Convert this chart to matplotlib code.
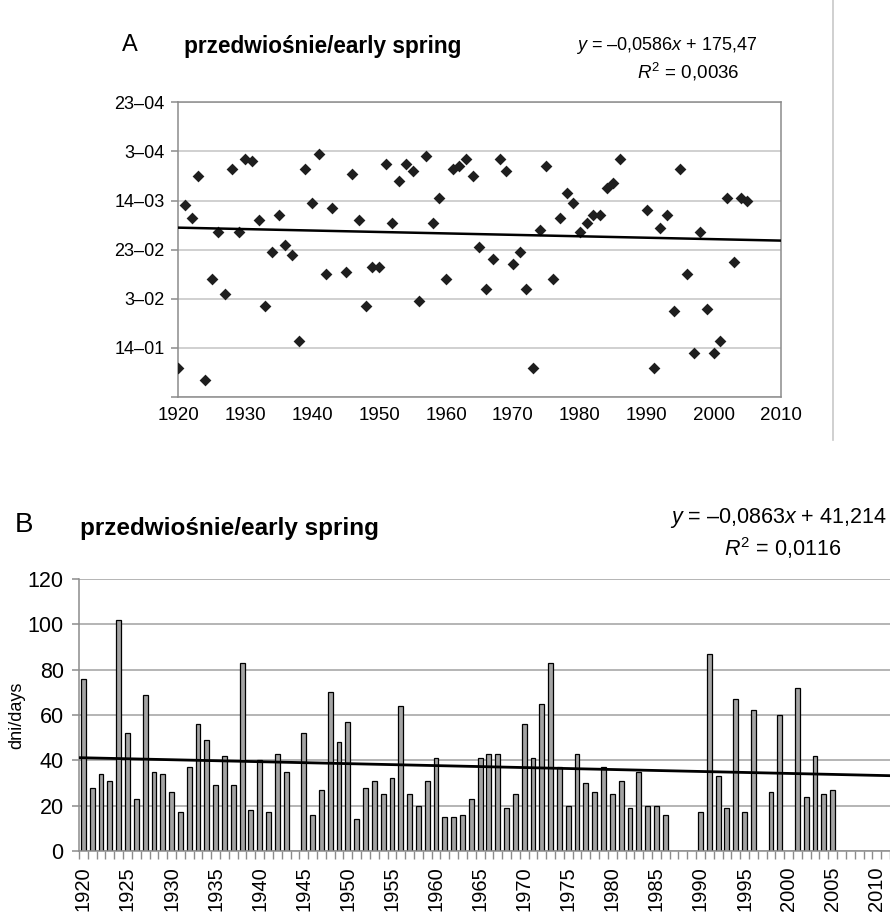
import matplotlib
matplotlib.use("Agg")
import matplotlib.pyplot as plt
from matplotlib import font_manager
from matplotlib.lines import Line2D
import numpy as np

plt.rcParams['font.family'] = ['Liberation Sans', 'DejaVu Sans']
plt.rcParams['mathtext.fontset'] = 'custom'
plt.rcParams['mathtext.rm'] = 'Liberation Sans'
plt.rcParams['mathtext.it'] = 'Liberation Sans:italic'

names = {f.name for f in font_manager.fontManager.ttflist}
has_narrow = 'Liberation Sans Narrow' in names
narrow = 'Liberation Sans Narrow' if has_narrow else 'Liberation Sans'

# ---- panel A : date of start of early spring (day number, 14 = 14 Jan)
years_a = [1920, 1921, 1922, 1923, 1924, 1925, 1926, 1927, 1928, 1929,
           1930, 1931, 1932, 1933, 1934, 1935, 1936, 1937, 1938, 1939,
           1940, 1941, 1942, 1943, 1945, 1946, 1947, 1948, 1949,
           1950, 1951, 1952, 1953, 1954, 1955, 1956, 1957, 1958, 1959,
           1960, 1961, 1962, 1963, 1964, 1965, 1966, 1967, 1968, 1969,
           1970, 1971, 1972, 1973, 1974, 1975, 1976, 1977, 1978, 1979,
           1980, 1981, 1982, 1983, 1984, 1985, 1986,
           1990, 1991, 1992, 1993, 1994, 1995, 1996, 1997, 1998, 1999,
           2000, 2001, 2002, 2003, 2004, 2005]
days_a = [6, 72, 67, 84, 1, 42, 61, 36, 87, 61,
          91, 90, 66, 31, 53, 68, 56, 52, 17, 87,
          73, 93, 44, 71, 45, 85, 66, 31, 47,
          47, 89, 65, 82, 89, 86, 33, 92, 65, 75,
          42, 87, 88, 91, 84, 55, 38, 50, 91, 86,
          48, 53, 38, 6, 62, 88, 42, 67, 77, 73,
          61, 65, 68, 68, 79, 81, 91,
          70, 6, 63, 68, 29, 87, 44, 12, 61, 30,
          12, 17, 75, 49, 75, 74]
ytick_days = [-6, 14, 34, 54, 74, 94, 114]
ytick_labels = ['', '14–01', '3–02', '23–02', '14–03', '3–04', '23–04']
slope_a, icpt_a = -0.0586, 175.47

# ---- panel B : duration of early spring (days)
years_b = [1920, 1921, 1922, 1923, 1924, 1925, 1926, 1927, 1928, 1929,
           1930, 1931, 1932, 1933, 1934, 1935, 1936, 1937, 1938, 1939,
           1940, 1941, 1942, 1943, 1945, 1946, 1947, 1948, 1949,
           1950, 1951, 1952, 1953, 1954, 1955, 1956, 1957, 1958, 1959,
           1960, 1961, 1962, 1963, 1964, 1965, 1966, 1967, 1968, 1969,
           1970, 1971, 1972, 1973, 1974, 1975, 1976, 1977, 1978, 1979,
           1980, 1981, 1982, 1983, 1984, 1985, 1986,
           1990, 1991, 1992, 1993, 1994, 1995, 1996, 1998, 1999,
           2001, 2002, 2003, 2004, 2005]
len_b = [76, 28, 34, 31, 102, 52, 23, 69, 35, 34,
         26, 17, 37, 56, 49, 29, 42, 29, 83, 18,
         40, 17, 43, 35, 52, 16, 27, 70, 48,
         57, 14, 28, 31, 25, 32, 64, 25, 20, 31,
         41, 15, 15, 16, 23, 41, 43, 43, 19, 25,
         56, 41, 65, 83, 37, 20, 43, 30, 26, 37,
         25, 31, 19, 35, 20, 20, 16,
         17, 87, 33, 19, 67, 17, 62, 26, 60,
         72, 24, 42, 25, 27]
first_cat, last_cat = 1920, 2011
slope_b, icpt_b = -0.0863, 41.214

W, H = 890, 916
fig = plt.figure(figsize=(W / 100, H / 100), dpi=100)


def box(l, t, r, b):
    return [l / W, 1 - b / H, (r - l) / W, (b - t) / H]


# ---------------- A
axA = fig.add_axes(box(178.3, 102.3, 780.7, 397))
axA.set_xlim(1920, 2010)
axA.set_ylim(-6, 114)
axA.set_yticks(ytick_days)
axA.set_yticklabels(ytick_labels)
axA.set_xticks(range(1920, 2011, 10))
axA.grid(axis='y', color='#c4c4c4', lw=1.1)
axA.set_axisbelow(True)
axA.scatter(years_a, days_a, marker='D', s=36, color='#1e1e1e', lw=0, zorder=3)
xx = np.array([1920, 2010])
axA.plot(xx, slope_a * xx + icpt_a, color='black', lw=1.8, zorder=4)
for sp in axA.spines.values():
    sp.set_color('#8c8c8c')
    sp.set_linewidth(1.1)
axA.tick_params(axis='x', length=0, pad=7, labelsize=13.5)
axA.tick_params(axis='y', length=5, color='#8c8c8c', width=1.1, labelsize=13, pad=5)

ttl_size = 19 if has_narrow else 16.3
fig.text(130 / W, 1 - 45 / H, 'A', fontsize=19 if has_narrow else 17, family=narrow,
         ha='center', va='center')
fig.text(184 / W, 1 - 47 / H, 'przedwiośnie/early spring', fontsize=ttl_size, family=narrow,
         weight='bold', ha='left', va='center')
fig.text(667 / W, 1 - 45 / H, r'$y$ = –0,0586$x$ + 175,47', fontsize=13,
         ha='center', va='center')
fig.text(688 / W, 1 - 72 / H, r'$R^2$ = 0,0036', fontsize=13.5, ha='center', va='center')

fig.add_artist(Line2D([833.3 / W, 833.3 / W], [1, 1 - 440 / H], color='#c8c8c8', lw=1.2))

# ---------------- B
axB = fig.add_axes(box(79, 579, 890, 851))
axB.bar(years_b, len_b, width=0.55, color='#a3a3a3', edgecolor='black', lw=0.9, zorder=2)
axB.set_xlim(first_cat - 0.5, last_cat + 0.5)
axB.set_ylim(0, 120)
axB.set_yticks(range(0, 121, 20))
axB.grid(axis='y', color='#a8a8a8', lw=1.2)
axB.set_axisbelow(True)
axB.set_xticks(range(1920, 2011, 5))
axB.set_xticks(np.arange(first_cat - 0.5, last_cat + 1, 1), minor=True)
plt.setp(axB.get_xticklabels(), rotation=90)
xb = np.array([first_cat - 0.5, last_cat + 0.5])
axB.plot(xb, slope_b * (xb - first_cat + 1) + icpt_b, color='black', lw=2, zorder=4)
axB.spines['top'].set_visible(False)
axB.spines['right'].set_visible(False)
for sp in ['left', 'bottom']:
    axB.spines[sp].set_color('#8c8c8c')
    axB.spines[sp].set_linewidth(1.1)
axB.tick_params(axis='x', which='major', length=0, pad=11, labelsize=14.5)
axB.tick_params(axis='x', which='minor', length=6, color='#8c8c8c', width=1)
axB.tick_params(axis='y', length=5, color='#8c8c8c', width=1.1, labelsize=15.5, pad=6)
axB.set_ylabel('dni/days', fontsize=13)
axB.yaxis.set_label_coords(-0.066, 0.5)

fig.text(24 / W, 1 - 525 / H, 'B', fontsize=20, ha='center', va='center')
fig.text(80 / W, 1 - 528 / H, 'przedwiośnie/early spring', fontsize=17.5,
         weight='bold', ha='left', va='center')
fig.text(887 / W, 1 - 518 / H, r'$y$ = –0,0863$x$ + 41,214', fontsize=15.5,
         ha='right', va='center')
fig.text(783 / W, 1 - 548 / H, r'$R^2$ = 0,0116', fontsize=15.5, ha='center', va='center')

fig.savefig('out.png', dpi=100)
